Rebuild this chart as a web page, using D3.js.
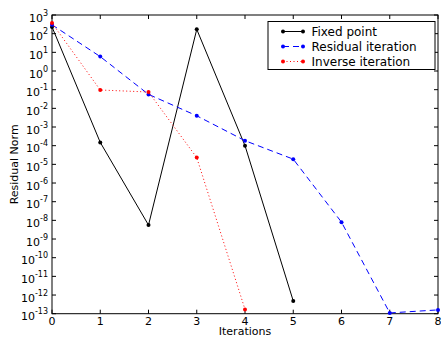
<!DOCTYPE html>
<html>
<head>
<meta charset="utf-8">
<script src="https://cdn.jsdelivr.net/npm/d3@7"></script>
<style>
  html, body { margin: 0; padding: 0; background: #fff; }
  svg { display: block; font-family: "DejaVu Sans", sans-serif; }
</style>
</head>
<body>
<svg id="chart" width="441" height="337"></svg>
<script>
// Residual norm per iteration for three solvers
const iterations = [0, 1, 2, 3, 4, 5, 6, 7, 8];
const fixedPoint = [2.3e2, 1.5e-4, 5.6e-9, 1.7e2, 1.0e-4, 4.8e-13];
const residualIteration = [3.0e2, 5.9e0, 5.6e-2, 4.0e-3, 1.85e-4, 1.9e-5, 8.0e-9, 1.1e-13, 1.6e-13];
const inverseIteration = [3.7e2, 9.6e-2, 7.5e-2, 2.3e-5, 1.7e-13];
const xTicks = [0, 1, 2, 3, 4, 5, 6, 7, 8];
const yExponents = [3, 2, 1, 0, -1, -2, -3, -4, -5, -6, -7, -8, -9, -10, -11, -12, -13];

const seriesList = [
  { name: "Fixed point", values: fixedPoint, color: "#000000", dash: null },
  { name: "Residual iteration", values: residualIteration, color: "#0000ff", dash: "6,4" },
  { name: "Inverse iteration", values: inverseIteration, color: "#ff0000", dash: "1,2.5" }
];

const svg = d3.select("#chart");
const plotLeft = 52, plotRight = 438, plotTop = 15, plotBottom = 313.7;

const x = d3.scaleLinear().domain([0, 8]).range([plotLeft, plotRight]);
const y = d3.scaleLog().domain([1e-13, 1e3]).range([plotBottom, plotTop]);

// plot frame
svg.append("rect")
  .attr("x", plotLeft).attr("y", plotTop)
  .attr("width", plotRight - plotLeft).attr("height", plotBottom - plotTop)
  .attr("fill", "#fff").attr("stroke", "#000").attr("stroke-width", 1);

const tickLen = 4;
const yTickVals = yExponents.map(e => Math.pow(10, e));

// inward ticks on all four sides
const ticks = svg.append("g").attr("stroke", "#000").attr("stroke-width", 1);
xTicks.forEach(t => {
  ticks.append("line").attr("x1", x(t)).attr("x2", x(t)).attr("y1", plotBottom).attr("y2", plotBottom - tickLen);
  ticks.append("line").attr("x1", x(t)).attr("x2", x(t)).attr("y1", plotTop).attr("y2", plotTop + tickLen);
});
yTickVals.forEach(v => {
  ticks.append("line").attr("x1", plotLeft).attr("x2", plotLeft + tickLen).attr("y1", y(v)).attr("y2", y(v));
  ticks.append("line").attr("x1", plotRight).attr("x2", plotRight - tickLen).attr("y1", y(v)).attr("y2", y(v));
});

// x tick labels
svg.append("g").selectAll("text").data(xTicks).join("text")
  .attr("x", d => x(d)).attr("y", 325)
  .attr("text-anchor", "middle").attr("font-size", 11).attr("fill", "#000")
  .text(d => d);

// y tick labels as powers of ten
const yLab = svg.append("g").selectAll("text").data(yExponents).join("text")
  .attr("x", 48).attr("y", d => y(Math.pow(10, d)) + 6.5)
  .attr("text-anchor", "end").attr("font-size", 11).attr("fill", "#000");
yLab.append("tspan").text("10");
yLab.append("tspan").attr("font-size", 8).attr("dy", -6).text(d => String(d));

// axis titles
svg.append("text")
  .attr("x", (plotLeft + plotRight) / 2).attr("y", 334.5)
  .attr("text-anchor", "middle").attr("font-size", 11).text("Iterations");
svg.append("text")
  .attr("transform", `translate(17.5, ${(plotTop + plotBottom) / 2}) rotate(-90)`)
  .attr("text-anchor", "middle").attr("font-size", 11).text("Residual Norm");

// series lines and markers
const line = d3.line().x((d, i) => x(iterations[i])).y(d => y(d));
seriesList.forEach(s => {
  const g = svg.append("g");
  g.append("path")
    .attr("d", line(s.values))
    .attr("fill", "none").attr("stroke", s.color).attr("stroke-width", 1)
    .attr("stroke-dasharray", s.dash);
  g.selectAll("circle").data(s.values).join("circle")
    .attr("cx", (d, i) => x(iterations[i])).attr("cy", d => y(d))
    .attr("r", 2).attr("fill", s.color);
});

// legend
const lg = svg.append("g");
lg.append("rect")
  .attr("x", 268).attr("y", 21.5).attr("width", 167).attr("height", 48)
  .attr("fill", "#fff").attr("stroke", "#000").attr("stroke-width", 1);
seriesList.forEach((s, i) => {
  const cy = 31.5 + i * 15;
  lg.append("line")
    .attr("x1", 283).attr("x2", 303).attr("y1", cy).attr("y2", cy)
    .attr("stroke", s.color).attr("stroke-width", 1).attr("stroke-dasharray", s.dash);
  [283, 303].forEach(cx => lg.append("circle").attr("cx", cx).attr("cy", cy).attr("r", 2).attr("fill", s.color));
  lg.append("text")
    .attr("x", 311.5).attr("y", cy + 4.5).attr("font-size", 12).attr("fill", "#000")
    .text(s.name);
});
</script>
</body>
</html>
